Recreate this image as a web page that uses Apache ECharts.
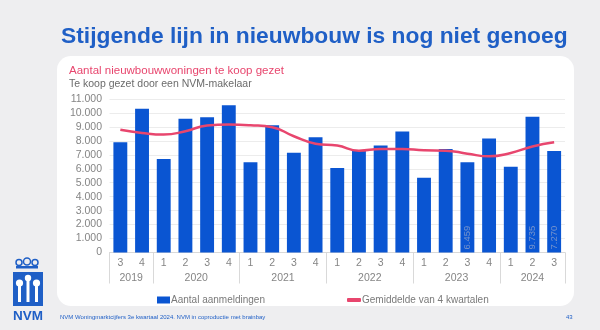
<!DOCTYPE html>
<html>
<head>
<meta charset="utf-8">
<script src="https://cdn.jsdelivr.net/npm/echarts@6/dist/echarts.min.js"></script>
<style>
html,body{margin:0;padding:0;background:#eeeef0;}
#c{width:600px;height:330px;}
</style>
</head>
<body>
<div id="c"></div>
<script>
// ---- data ----
const quarters = ['3','4','1','2','3','4','1','2','3','4','1','2','3','4','1','2','3','4','1','2','3'];
const years = ['2019','2020','2021','2022','2023','2024'];
const quartersPerYear = [2,4,4,4,4,3];
const aanmeldingen = [7900,10300,6700,9580,9700,10560,6460,9120,7140,8260,6060,7300,7660,8670,5360,7420,6459,8170,6150,9735,7270];
const gemiddelde = [8800,8570,8450,8690,9100,9170,9120,8980,8330,7800,7660,7300,7420,7420,7320,7300,7080,6890,7130,7600,7900];
const labelledIdx = [16,19,20];
const yTicks = {min:0, max:11000, step:1000};

const fmt = v => String(v).replace(/\B(?=(\d{3})+(?!\d))/g, '.');

// year axis built on half-quarter positions (boundaryGap false)
const nHalf = quarters.length * 2 + 1;
const yearAxisData = new Array(nHalf).fill('');
const sepIdx = new Set();
let s = 0;
years.forEach((y, k) => {
  const c = quartersPerYear[k];
  yearAxisData[2*s + c] = y;
  sepIdx.add(2*s);
  s += c;
});
sepIdx.add(2*s);

const barData = aanmeldingen.map((v,i) => labelledIdx.includes(i) ? {
  value: v,
  label: {show:true, position:'insideBottom', rotate:90, align:'left', verticalAlign:'middle',
          distance:3, color:'#7593cc', fontSize:9.5, fontFamily:'Liberation Sans', formatter: p => fmt(p.value)}
} : v);

const BLUE = '#0a55d2', PINK = '#e8466e', LOGO = '#1f5fc6', GRAY = '#858585';
const FF = 'Liberation Sans';

const chart = echarts.init(document.getElementById('c'), null, {renderer:'canvas'});
chart.setOption({
  backgroundColor: '#eeeef0',
  animation: false,
  title: [
    {text:'Stijgende lijn in nieuwbouw is nog niet genoeg', left:61, top:25, padding:0,
     textStyle:{color:LOGO, fontSize:22.8, fontWeight:'bold', fontFamily:FF}},
    {text:'Aantal nieuwbouwwoningen te koop gezet', left:69, top:65, padding:0,
     textStyle:{color:PINK, fontSize:11.5, fontWeight:'normal', fontFamily:FF}},
    {text:'Te koop gezet door een NVM-makelaar', left:69, top:79, padding:0,
     textStyle:{color:'#6b6b6b', fontSize:10.5, fontWeight:'normal', fontFamily:FF}},
    {text:'NVM Woningmarktcijfers 3e kwartaal 2024. NVM in coproductie met brainbay', left:60, top:314, padding:0,
     textStyle:{color:LOGO, fontSize:6, fontWeight:'normal', fontFamily:FF}},
    {text:'43', left:566, top:314, padding:0,
     textStyle:{color:LOGO, fontSize:6, fontWeight:'normal', fontFamily:FF}}
  ],
  graphic: [
    {type:'rect', z:-10, shape:{x:57, y:56, width:517, height:250, r:14}, style:{fill:'#ffffff'}},
    // logo crown
    {type:'rect', shape:{x:16, y:266, width:22, height:2.5}, style:{fill:LOGO}},
    {type:'circle', shape:{cx:19, cy:262.5, r:3}, style:{fill:'none', stroke:LOGO, lineWidth:1.5}},
    {type:'circle', shape:{cx:27, cy:261.5, r:3.5}, style:{fill:'none', stroke:LOGO, lineWidth:1.5}},
    {type:'circle', shape:{cx:35, cy:262.5, r:3}, style:{fill:'none', stroke:LOGO, lineWidth:1.5}},
    // logo block
    {type:'rect', shape:{x:13, y:272, width:30, height:34}, style:{fill:LOGO}},
    {type:'circle', shape:{cx:28, cy:278, r:3.2}, style:{fill:'#fff'}},
    {type:'circle', shape:{cx:19.5, cy:283, r:3.6}, style:{fill:'#fff'}},
    {type:'circle', shape:{cx:36.5, cy:283, r:3.6}, style:{fill:'#fff'}},
    {type:'rect', shape:{x:26.5, y:280, width:3, height:22}, style:{fill:'#fff'}},
    {type:'rect', shape:{x:18, y:285, width:3, height:17}, style:{fill:'#fff'}},
    {type:'rect', shape:{x:35, y:285, width:3, height:17}, style:{fill:'#fff'}},
    {type:'text', x:13, y:309, style:{text:'NVM', fill:LOGO, font:'bold 13.5px "Liberation Sans"'}}
  ],
  legend: [
    {left:152, top:290, itemWidth:13, itemHeight:7, itemGap:20,
     data:[{name:'Aantal aanmeldingen', icon:'rect'}],
     textStyle:{color:'#7a7a7a', fontSize:10, fontFamily:FF, padding:[0,0,0,-4]}},
    {left:342, top:290, itemWidth:14, itemHeight:4,
     data:[{name:'Gemiddelde van 4 kwartalen', icon:'roundRect'}],
     textStyle:{color:'#7a7a7a', fontSize:10, fontFamily:FF, padding:[0,0,0,-4]}}
  ],
  grid: {left:109.5, right:35, top:99, bottom:77.5},
  xAxis: [
    {type:'category', data:quarters, boundaryGap:true,
     axisLine:{show:true, lineStyle:{color:'#d9d9d9', width:1}},
     axisTick:{show:false},
     axisLabel:{color:GRAY, fontSize:10.5, fontFamily:FF, margin:5, interval:0},
     splitLine:{show:false}},
    {type:'category', data:yearAxisData, boundaryGap:false, position:'bottom',
     axisLine:{show:false},
     axisTick:{show:true, length:31, interval:(i) => sepIdx.has(i), lineStyle:{color:'#d9d9d9', width:1}},
     axisLabel:{color:GRAY, fontSize:10.5, fontFamily:FF, margin:20, interval:(i,v) => v !== ''},
     splitLine:{show:false}}
  ],
  yAxis: {type:'value', min:yTicks.min, max:yTicks.max, interval:yTicks.step,
    axisLine:{show:false}, axisTick:{show:false},
    axisLabel:{color:GRAY, fontSize:10.5, fontFamily:FF, margin:7.5, formatter:v => fmt(v)},
    splitLine:{lineStyle:{color:'#ececec', width:1}}},
  series: [
    {name:'Aantal aanmeldingen', type:'bar', xAxisIndex:0, data:barData, barWidth:'64%',
     itemStyle:{color:BLUE}},
    {name:'Gemiddelde van 4 kwartalen', type:'line', xAxisIndex:0, data:gemiddelde, smooth:true,
     symbol:'none', lineStyle:{color:PINK, width:2.5}, itemStyle:{color:PINK}}
  ]
});
</script>
</body>
</html>
